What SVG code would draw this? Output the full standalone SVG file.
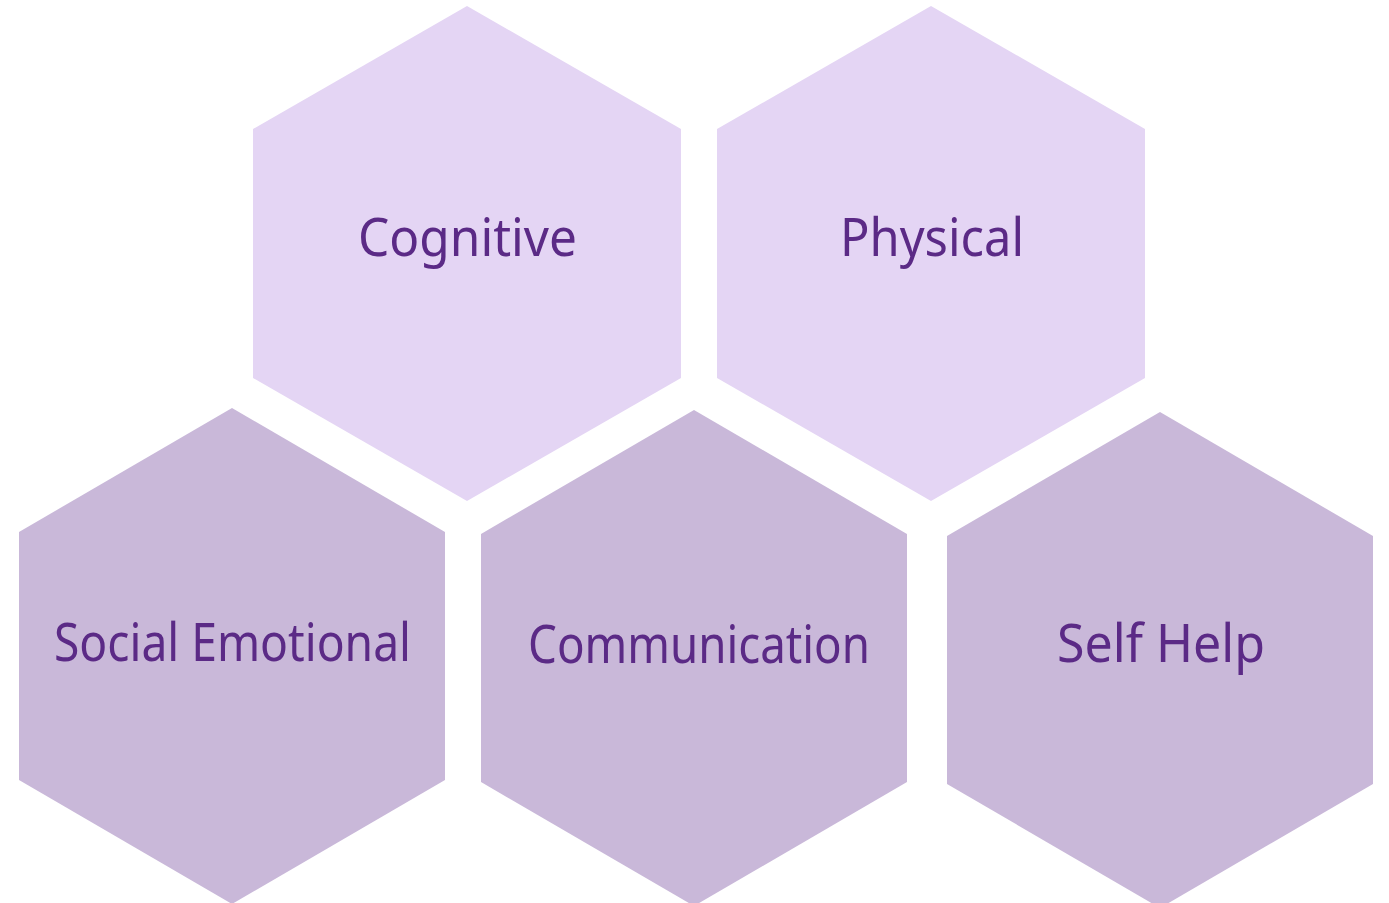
<svg xmlns="http://www.w3.org/2000/svg" width="1389" height="903" viewBox="0 0 1389 903">
<style>
.top{fill:#E4D5F4}
.bot{fill:#C9B8D9}
text{font-family:"Noto Sans","Open Sans","Liberation Sans",sans-serif;font-size:52px;fill:#5B2A86;text-anchor:middle}
</style>
<rect width="1389" height="903" fill="#FFFFFF"/>
<g id="cognitive">
<polygon class="top" points="467,6 681,129 681,378 467,501 253,378 253,129"/>
<text x="467.5" y="256" textLength="219" lengthAdjust="spacingAndGlyphs">Cognitive</text>
</g>
<g id="physical">
<polygon class="top" points="931,6 1145,129 1145,378 931,501 717,378 717,129"/>
<text x="932" y="256" textLength="184" lengthAdjust="spacingAndGlyphs">Physical</text>
</g>
<g id="social-emotional">
<polygon class="bot" points="232,408 445,532 445,780 232,904 19,780 19,532"/>
<text x="232.5" y="661" textLength="357" lengthAdjust="spacingAndGlyphs">Social Emotional</text>
</g>
<g id="communication">
<polygon class="bot" points="694,410 907,534 907,782 694,906 481,782 481,534"/>
<text x="699" y="663" textLength="342" lengthAdjust="spacingAndGlyphs">Communication</text>
</g>
<g id="self-help">
<polygon class="bot" points="1160,412 1373,536 1373,784 1160,908 947,784 947,536"/>
<text x="1161" y="662" textLength="208" lengthAdjust="spacingAndGlyphs">Self Help</text>
</g>
<g id="connectors"></g>
</svg>
